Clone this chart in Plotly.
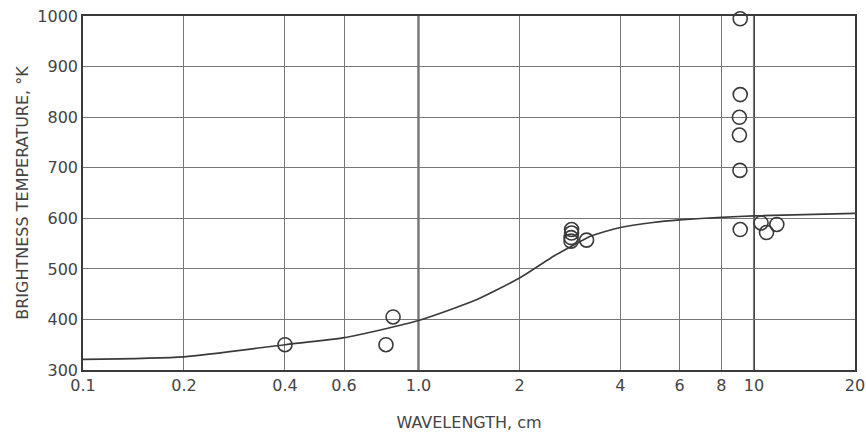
import plotly.graph_objects as go

# Observed brightness temperatures (wavelength in cm, temperature in K)
obs_wavelength = [0.4, 0.8, 0.84, 2.86, 2.86, 2.85, 2.85, 3.17,
                  9.1, 9.1, 9.05, 9.05, 9.08, 9.1, 10.5, 10.9, 11.7, 20.3]
obs_temperature = [350, 350, 405, 578, 571, 562, 555, 557,
                   995, 845, 800, 765, 695, 578, 591, 572, 588, 610]

# Smooth model curve
curve_wavelength = [0.1, 0.2, 0.4, 0.6, 1.0, 1.5, 2.0, 2.54, 2.86, 3.27,
                    3.6, 4.0, 5.0, 6.0, 8.0, 10.0, 20.0]
curve_temperature = [321, 326, 350, 364, 398, 440, 482, 526, 545, 565,
                     574, 582, 592, 597, 602, 605, 610]

x_tickvals = [0.1, 0.2, 0.4, 0.6, 1, 2, 4, 6, 8, 10, 20]
x_ticktext = ["0.1", "0.2", "0.4", "0.6", "1.0", "2", "4", "6", "8", "10", "20"]
y_tickvals = [300, 400, 500, 600, 700, 800, 900, 1000]
heavy_lines = [1, 10]

ink = "#3a3a3a"
tick_font = dict(family="DejaVu Sans", size=16, color="#444")
title_font = dict(family="DejaVu Sans", size=16, color="#444")

fig = go.Figure()
fig.add_trace(go.Scatter(
    x=curve_wavelength, y=curve_temperature, mode="lines",
    line=dict(color=ink, width=1.6, shape="spline", smoothing=0.6),
    hoverinfo="skip", showlegend=False, cliponaxis=True))
fig.add_trace(go.Scatter(
    x=obs_wavelength, y=obs_temperature, mode="markers",
    marker=dict(symbol="circle-open", size=14, color=ink, line=dict(width=1.6, color=ink)),
    showlegend=False, cliponaxis=False))

for v in heavy_lines:
    fig.add_shape(type="line", xref="x", yref="paper", x0=v, x1=v, y0=0, y1=1,
                  line=dict(color=ink, width=2), layer="below")

fig.update_layout(
    width=866, height=432,
    margin=dict(l=83, r=11, t=16, b=62),
    paper_bgcolor="white", plot_bgcolor="white",
    font=tick_font,
    xaxis=dict(type="log", range=[-1, 1.3012], tickvals=x_tickvals, ticktext=x_ticktext,
               showgrid=True, gridcolor="#777", gridwidth=1,
               showline=True, linecolor=ink, linewidth=1.5, mirror=True,
               ticks="", tickfont=tick_font, zeroline=False, automargin=False,
               ticklabeloverflow="allow",
               title=dict(text="WAVELENGTH, cm", font=title_font, standoff=24)),
    yaxis=dict(range=[300, 1000.5], tickvals=y_tickvals,
               showgrid=True, gridcolor="#777", gridwidth=1,
               showline=True, linecolor=ink, linewidth=1.5, mirror=True,
               ticks="", tickfont=tick_font, zeroline=False, automargin=False,
               ticklabeloverflow="allow",
               title=dict(text="BRIGHTNESS TEMPERATURE, °K", font=title_font, standoff=5)),
)

fig.write_html(
    "out.html",
    config={"displayModeBar": False},
    post_script="document.body.style.margin='0';"
                "document.documentElement.style.overflow='hidden';",
)
